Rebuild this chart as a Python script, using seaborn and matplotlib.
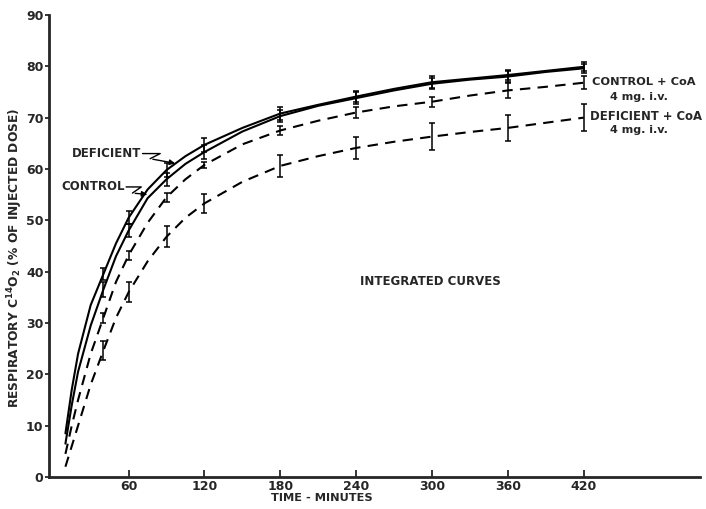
import pandas as pd
import seaborn as sns
import matplotlib.pyplot as plt

# curve readings (minutes, % of injected dose)
t_curve = [10, 15, 20, 30, 40, 50, 60, 75, 90, 105, 120, 150, 180, 210, 240, 270, 300, 330, 360, 390, 420]
deficient = [8.5, 17, 24, 33.5, 39.5, 45.5, 50.5, 56, 59.8, 62.5, 64.7, 68, 70.8, 72.5, 74.1, 75.6, 76.9, 77.6, 78.3, 79.1, 79.9]
control = [6.5, 14, 20.5, 29.5, 36.5, 43, 48, 54.3, 58, 61, 63.3, 67.3, 70.3, 72.3, 73.8, 75.3, 76.6, 77.4, 78.0, 78.9, 79.6]
control_coa = [4.5, 10, 15, 24, 31, 38, 43.2, 49.5, 54.5, 58, 60.8, 64.8, 67.5, 69.4, 71, 72.2, 73.1, 74.3, 75.3, 76, 76.8]
deficient_coa = [2, 6, 10, 18, 24.6, 31, 36, 42, 46.8, 50.5, 53.3, 57.5, 60.6, 62.5, 64.1, 65.3, 66.3, 67.2, 68, 69, 70]

# sampling times with error bars (half widths)
t_err = [40, 60, 90, 120, 180, 240, 300, 360, 420]
err_deficient = [1.2, 1.3, 1.3, 1.3, 1.2, 1.1, 1.2, 1.0, 0.9]
err_control = [1.5, 1.3, 1.3, 1.3, 1.2, 1.1, 1.1, 1.0, 0.9]
err_control_coa = [1.0, 0.9, 0.9, 0.6, 0.8, 1.0, 1.0, 1.5, 1.3]
err_deficient_coa = [1.8, 2.0, 2.0, 1.8, 2.2, 2.2, 2.6, 2.6, 2.6]

groups = ["Deficient", "Control", "Control + CoA", "Deficient + CoA"]
series = [deficient, control, control_coa, deficient_coa]
errs = [err_deficient, err_control, err_control_coa, err_deficient_coa]

df = pd.concat([pd.DataFrame({"time": t_curve, "value": v, "group": g})
                for g, v in zip(groups, series)], ignore_index=True)

sns.set_style("ticks")
plt.rcParams["font.family"] = ["DejaVu Sans"]
plt.rcParams["font.weight"] = "bold"

fig = plt.figure(figsize=(7.06, 5.09), dpi=100)
ax = fig.add_axes([0.0694, 0.0629, 0.922, 0.9077])

dash_map = {"Deficient": "", "Control": "", "Control + CoA": (5, 3.5), "Deficient + CoA": (5, 3.5)}
sns.lineplot(data=df, x="time", y="value", style="group", dashes=dash_map,
             color="black", linewidth=1.5, legend=False, ax=ax, sort=True)

# error bars
for g, e in zip(groups, errs):
    sub = df[df["group"] == g].set_index("time").loc[t_err, "value"]
    ax.errorbar(t_err, sub.values, yerr=e, fmt="none", ecolor="black",
                elinewidth=1.1, capsize=2.5, capthick=1.1)

ax.set_xlim(-3, 512)
ax.set_ylim(0, 90)
ax.set_xticks([60, 120, 180, 240, 300, 360, 420])
ax.set_yticks(range(0, 91, 10))
ax.tick_params(axis="x", direction="in", length=5, width=1.3, labelsize=9, pad=2)
ax.tick_params(axis="y", direction="out", length=3, width=1.3, labelsize=9, pad=1)
for lab in ax.get_xticklabels() + ax.get_yticklabels():
    lab.set_fontweight("bold")
sns.despine(ax=ax)
ax.spines["left"].set_linewidth(2)
ax.spines["bottom"].set_linewidth(2)

ax.set_xlabel("TIME - MINUTES", fontsize=8.2, fontweight="bold")
ax.xaxis.set_label_coords(0.419, -0.035)
ax.set_ylabel(r"RESPIRATORY C$^{\mathbf{14}}$O$_{\mathbf{2}}$ (% OF INJECTED DOSE)",
              fontsize=8.8, fontweight="bold")
ax.yaxis.set_label_coords(-0.037, 0.474)

# curve labels with zigzag leaders
ax.text(70, 63, "DEFICIENT", fontsize=8.5, fontweight="bold", ha="right", va="center")
ax.plot([71, 85, 77], [63, 63, 62], color="black", lw=1)
ax.annotate("", xy=(99, 61.0), xytext=(77, 62),
            arrowprops=dict(arrowstyle="-|>", color="black", lw=1, mutation_scale=8))
ax.text(57, 56.5, "CONTROL", fontsize=8.5, fontweight="bold", ha="right", va="center")
ax.plot([58, 70, 63], [56.5, 56.5, 55.3], color="black", lw=1)
ax.annotate("", xy=(77, 55.0), xytext=(63, 55.3),
            arrowprops=dict(arrowstyle="-|>", color="black", lw=1, mutation_scale=8))

ax.text(427, 77, "CONTROL + CoA", fontsize=8.2, fontweight="bold", ha="left", va="center")
ax.text(464, 74.1, "4 mg. i.v.", fontsize=8, fontweight="bold", ha="center", va="center")
ax.text(425, 70.3, "DEFICIENT + CoA", fontsize=8.4, fontweight="bold", ha="left", va="center")
ax.text(464, 67.5, "4 mg. i.v.", fontsize=8, fontweight="bold", ha="center", va="center")
ax.text(299, 38, "INTEGRATED CURVES", fontsize=8.5, fontweight="bold", ha="center", va="center")

plt.savefig("out.png", dpi=100)
